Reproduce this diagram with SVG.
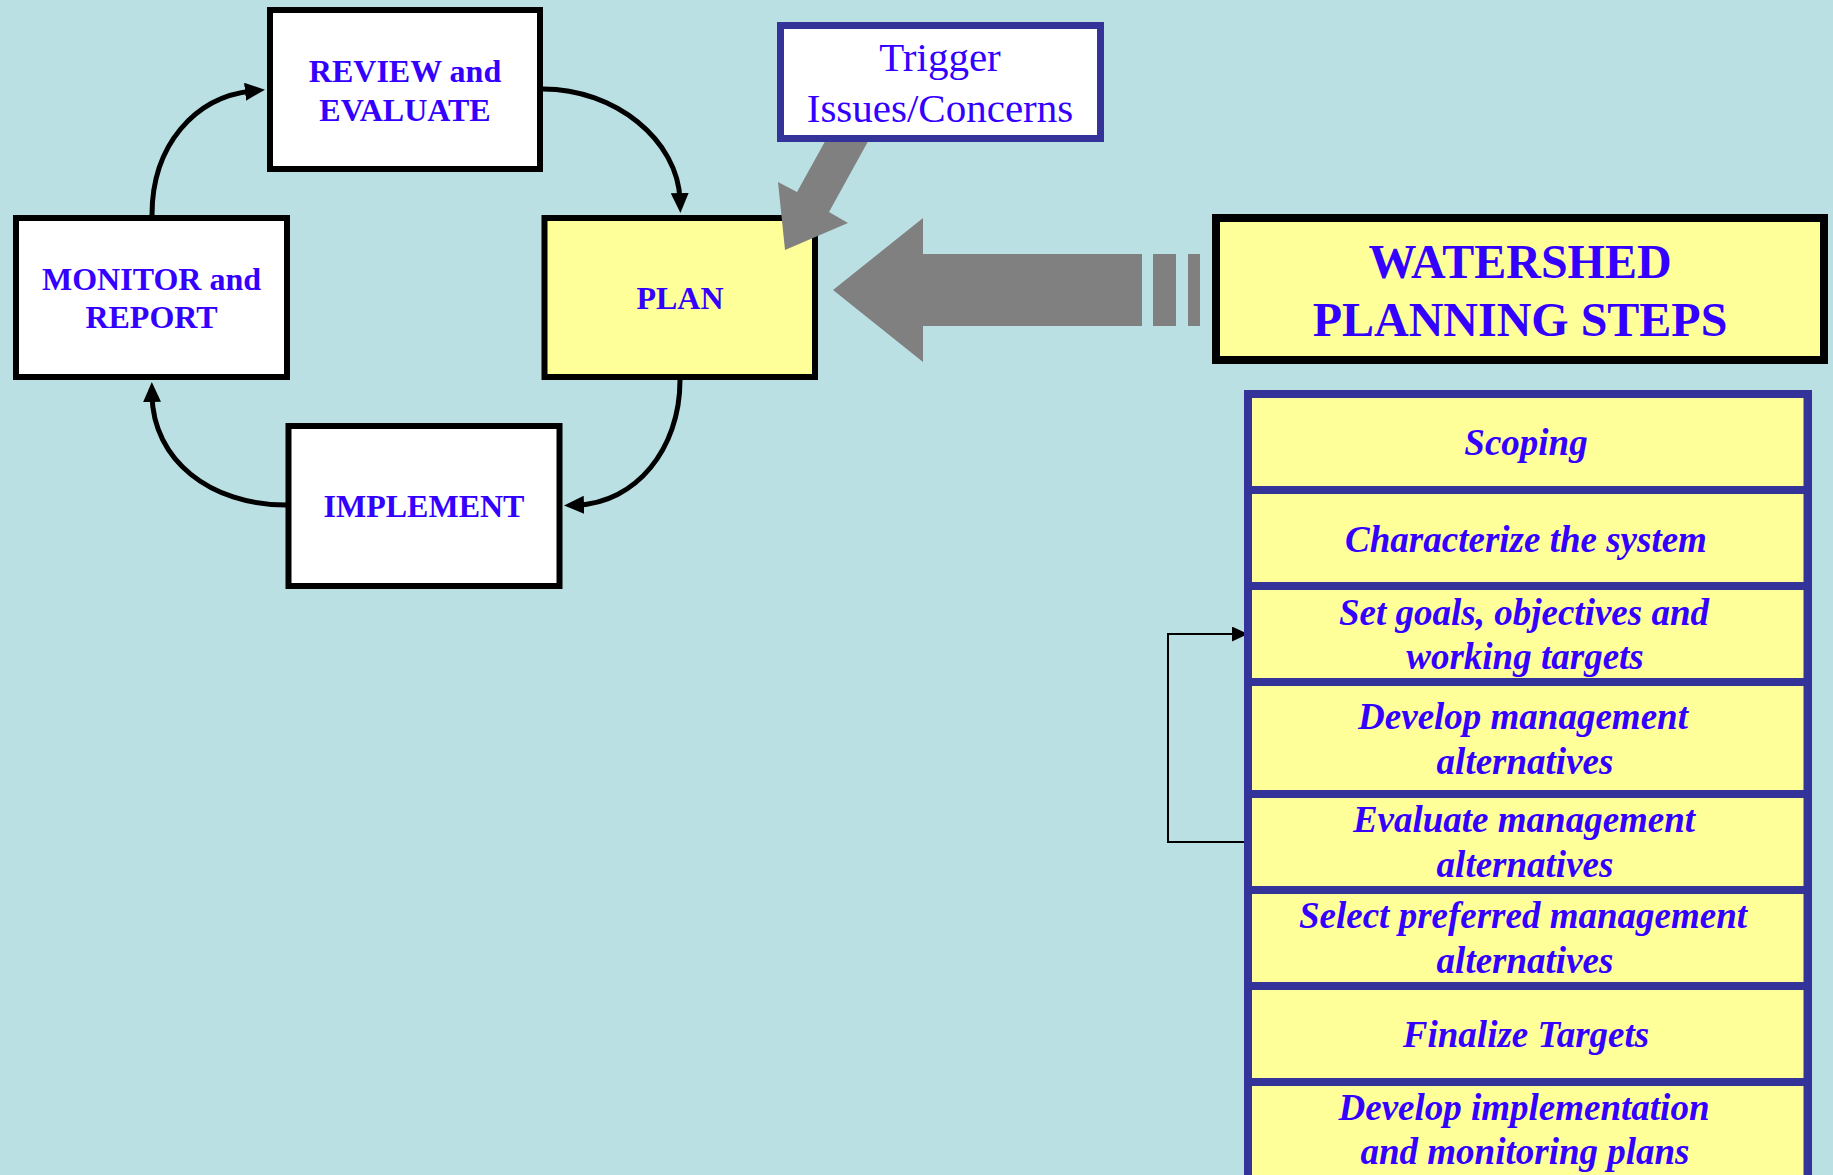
<svg xmlns="http://www.w3.org/2000/svg" width="1833" height="1175" viewBox="0 0 1833 1175">
<defs>
<style>
.box{fill:#FFFFFF;stroke:#000000;stroke-width:6}
.plan{fill:#FFFF99;stroke:#000000;stroke-width:6}
.cyc{font-family:"Liberation Serif","Times New Roman",serif;font-weight:bold;font-size:32px;fill:#3300FF;text-anchor:middle}
.trig{font-family:"Liberation Serif","Times New Roman",serif;font-size:41px;fill:#3300FF;text-anchor:middle}
.ws{font-family:"Liberation Serif","Times New Roman",serif;font-weight:bold;font-size:48px;fill:#3300FF;text-anchor:middle}
.step{font-family:"Liberation Serif","Times New Roman",serif;font-weight:bold;font-style:italic;font-size:37px;fill:#3300FF;text-anchor:middle}
.cell{fill:#FFFF99}
.curve{fill:none;stroke:#000000;stroke-width:5}
.gray{fill:#808080}
</style>
<marker id="ah" markerUnits="userSpaceOnUse" viewBox="0 0 20 18" refX="7" refY="9" markerWidth="20" markerHeight="18" orient="auto">
<path d="M0,0 L20,9 L0,18 z" fill="#000000"/>
</marker>
<marker id="ahs" markerUnits="userSpaceOnUse" viewBox="0 0 16 15" refX="16" refY="7.5" markerWidth="16" markerHeight="15" orient="auto">
<path d="M0,0 L16,7.5 L0,15 z" fill="#000000"/>
</marker>
</defs>
<rect x="0" y="0" width="1833" height="1175" fill="#BBE0E3"/>

<g id="review">
<rect class="box" x="270" y="10" width="270" height="159"/>
<text class="cyc" x="405" y="82">REVIEW and</text>
<text class="cyc" x="405" y="121">EVALUATE</text>
</g>
<g id="monitor">
<rect class="box" x="16" y="218" width="271" height="159"/>
<text class="cyc" x="151.5" y="290">MONITOR and</text>
<text class="cyc" x="151.5" y="328">REPORT</text>
</g>
<g id="plan">
<rect class="plan" x="544.5" y="218" width="270.5" height="159"/>
<text class="cyc" x="680" y="309">PLAN</text>
</g>
<g id="implement">
<rect class="box" x="288.5" y="426" width="271" height="160"/>
<text class="cyc" x="424" y="517">IMPLEMENT</text>
</g>

<g id="connectors">
<path class="curve" d="M152,215 C152,145 195,97 252,91" marker-end="url(#ah)"/>
<path class="curve" d="M543,89 C615,89 678,140 680,200" marker-end="url(#ah)"/>
<path class="curve" d="M680,380 C680,450 635,503 577,505" marker-end="url(#ah)"/>
<path class="curve" d="M286,505 C210,505 153,460 152,395" marker-end="url(#ah)"/>
<polygon class="gray" points="828,136 871,136 829,212 848,223 785,250 778,182 797,192"/>
<polygon class="gray" points="833,290 923,218 923,254 1142,254 1142,326 923,326 923,362"/>
<rect class="gray" x="1153" y="254" width="23" height="72"/>
<rect class="gray" x="1188" y="254" width="12" height="72"/>
<path d="M1250,842 H1168 V634 H1248" fill="none" stroke="#000000" stroke-width="2" marker-end="url(#ahs)"/>
</g>

<g id="trigger">
<rect x="780.5" y="25.5" width="320" height="113" fill="#FFFFFF" stroke="#333399" stroke-width="7"/>
<text class="trig" x="940" y="71">Trigger</text>
<text class="trig" x="940" y="122">Issues/Concerns</text>
</g>

<g id="watershed">
<rect x="1216" y="218" width="608" height="142" fill="#FFFF99" stroke="#000000" stroke-width="8"/>
<text class="ws" x="1520" y="278">WATERSHED</text>
<text class="ws" x="1520" y="336">PLANNING STEPS</text>
</g>

<g id="steps">
<rect x="1244" y="390" width="568" height="800" fill="#333399"/>
<g id="step-scoping">
<rect class="cell" x="1252" y="398" width="551.5" height="88"/>
<text class="step" x="1526" y="455">Scoping</text>
</g>
<g id="step-characterize">
<rect class="cell" x="1252" y="494" width="551.5" height="88"/>
<text class="step" x="1526" y="552">Characterize the system</text>
</g>
<g id="step-goals">
<rect class="cell" x="1252" y="590" width="551.5" height="88"/>
<text class="step" x="1524" y="625">Set goals, objectives and</text>
<text class="step" x="1525" y="669">working targets</text>
</g>
<g id="step-develop">
<rect class="cell" x="1252" y="686" width="551.5" height="104"/>
<text class="step" x="1523" y="729">Develop management</text>
<text class="step" x="1525" y="774">alternatives</text>
</g>
<g id="step-evaluate">
<rect class="cell" x="1252" y="798" width="551.5" height="88"/>
<text class="step" x="1524" y="832">Evaluate management</text>
<text class="step" x="1525" y="877">alternatives</text>
</g>
<g id="step-select">
<rect class="cell" x="1252" y="894" width="551.5" height="88"/>
<text class="step" x="1523" y="928">Select preferred management</text>
<text class="step" x="1525" y="973">alternatives</text>
</g>
<g id="step-finalize">
<rect class="cell" x="1252" y="990" width="551.5" height="88"/>
<text class="step" x="1526" y="1047">Finalize Targets</text>
</g>
<g id="step-implementation">
<rect class="cell" x="1252" y="1086" width="551.5" height="100"/>
<text class="step" x="1524" y="1120">Develop implementation</text>
<text class="step" x="1525" y="1164">and monitoring plans</text>
</g>
</g>
</svg>
